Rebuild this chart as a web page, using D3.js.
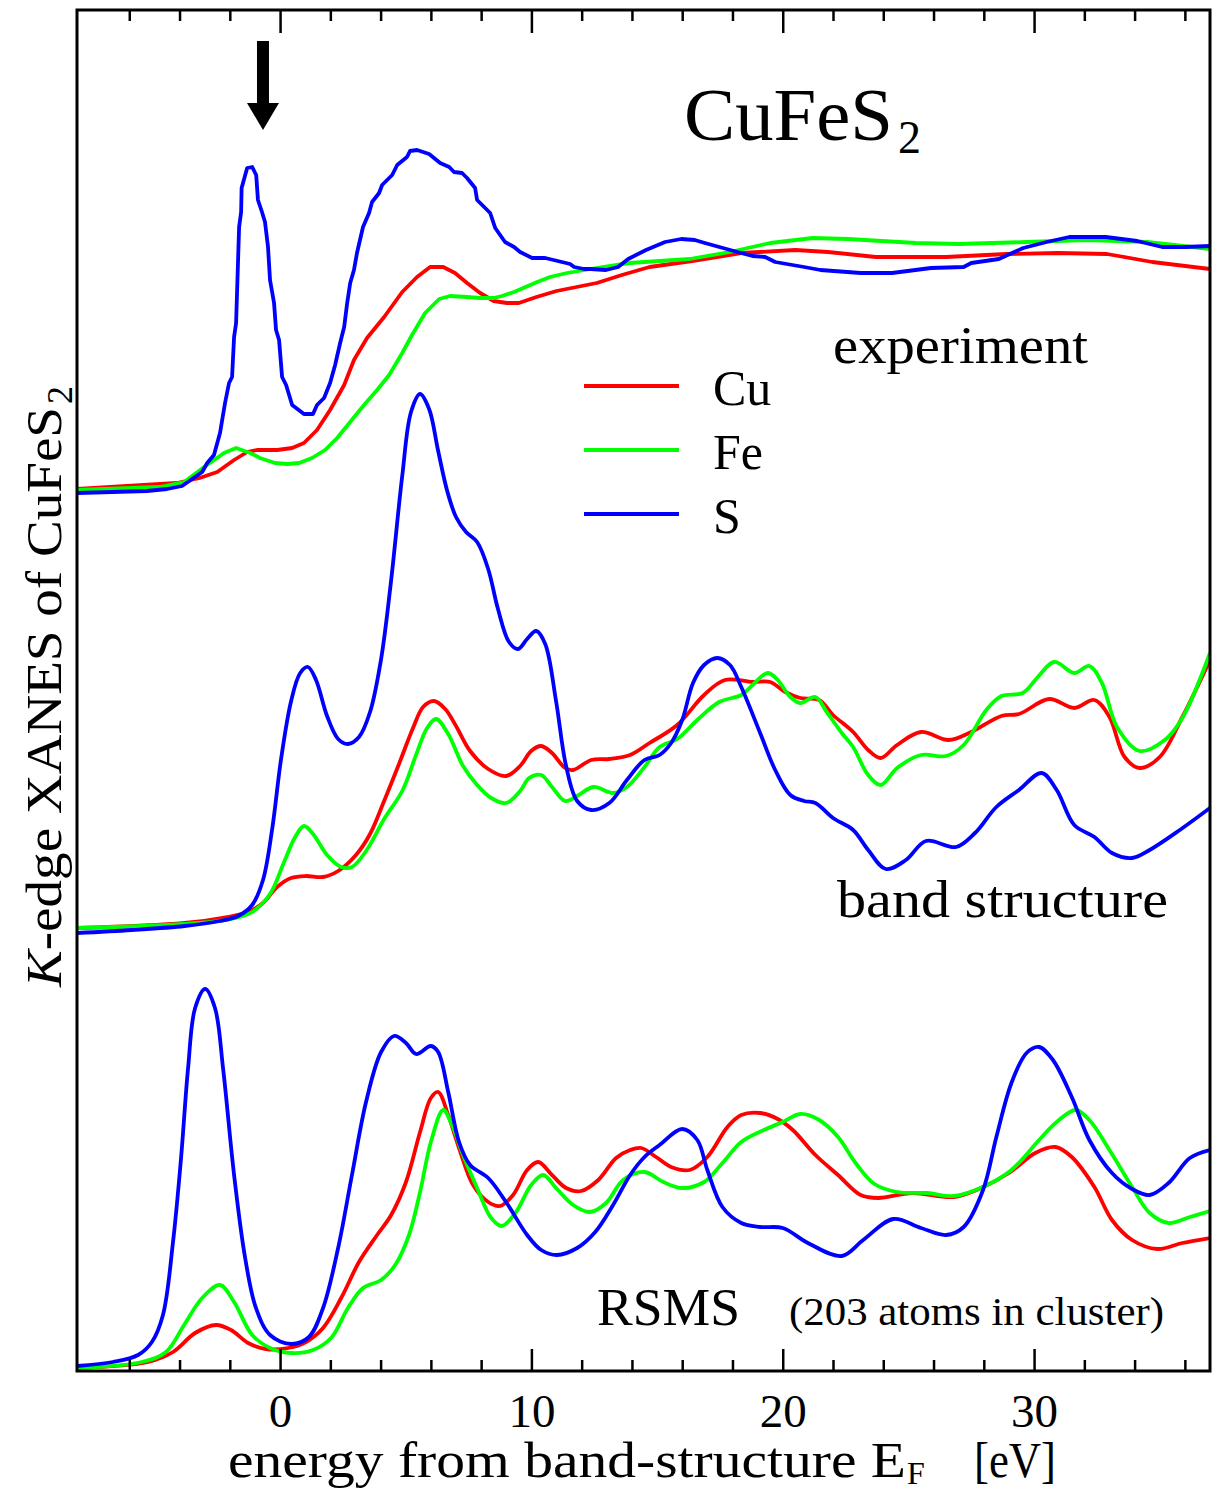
<!DOCTYPE html>
<html>
<head>
<meta charset="utf-8">
<script src="https://cdnjs.cloudflare.com/ajax/libs/d3/7.8.5/d3.min.js"></script>
<style>
  body { margin: 0; background: #fff; }
  text { font-family: "Liberation Serif", "Times New Roman", serif; fill: #000; }
</style>
</head>
<body>
<div id="chart"></div>
<script>
// energies in eV (from band-structure E_F), intensities in arbitrary offset units
var expS = [[-8.08,8.78],[-5.3,8.80],[-4.5,8.82],[-3.9,8.85],[-3.5,8.92],[-3.1,8.99],[-2.9,9.08],[-2.63,9.16],[-2.39,9.38],[-2.19,9.68],[-2.03,9.88],[-1.91,9.94],[-1.83,10.34],[-1.75,10.48],[-1.63,11.44],[-1.55,11.59],[-1.53,11.83],[-1.31,12.03],[-1.11,12.04],[-0.95,11.96],[-0.88,11.71],[-0.72,11.59],[-0.6,11.49],[-0.48,11.24],[-0.4,10.91],[-0.24,10.68],[-0.16,10.41],[-0.04,10.31],[0.08,9.94],[0.24,9.86],[0.48,9.66],[0.95,9.57],[1.31,9.57],[1.47,9.66],[1.75,9.73],[1.99,9.88],[2.19,10.06],[2.39,10.28],[2.55,10.44],[2.67,10.68],[2.79,10.88],[2.94,11.01],[3.06,11.18],[3.3,11.44],[3.54,11.58],[3.66,11.69],[3.94,11.78],[4.06,11.86],[4.46,11.96],[4.66,12.06],[5.05,12.14],[5.17,12.20],[5.45,12.21],[5.93,12.17],[6.37,12.08],[6.73,12.04],[6.92,11.99],[7.24,11.98],[7.44,11.93],[7.76,11.83],[7.84,11.71],[8.36,11.58],[8.56,11.43],[8.95,11.29],[9.31,11.24],[9.55,11.19],[10.03,11.13],[10.55,11.13],[11.54,11.07],[11.7,11.04],[12.1,11.02],[12.34,11.02],[12.97,11.01],[13.45,11.04],[13.85,11.12],[14.56,11.21],[15.32,11.29],[15.96,11.32],[16.5,11.31],[16.9,11.28],[18.2,11.19],[18.8,11.15],[19.3,11.14],[19.7,11.09],[20.85,11.04],[21.5,11.01],[23.1,10.98],[24.35,10.98],[25.9,11.03],[27.2,11.04],[27.5,11.08],[28.6,11.12],[29.57,11.23],[30.5,11.29],[31.4,11.34],[32.85,11.34],[34.1,11.30],[35.1,11.24],[36.0,11.24],[37.0,11.25]];
var expCu = [[-8.08,8.82],[-4.1,8.88],[-3.2,8.93],[-2.5,8.99],[-1.83,9.11],[-1.31,9.19],[-0.92,9.21],[-0.12,9.21],[0.48,9.23],[0.95,9.28],[1.47,9.41],[1.99,9.61],[2.55,9.86],[2.94,10.11],[3.46,10.33],[4.14,10.54],[4.86,10.79],[5.45,10.94],[5.97,11.04],[6.49,11.04],[6.96,10.98],[7.44,10.88],[7.96,10.78],[8.5,10.70],[9.03,10.68],[9.5,10.68],[10.2,10.74],[11.0,10.80],[11.8,10.84],[12.6,10.88],[13.6,10.96],[14.7,11.04],[16.4,11.10],[18.35,11.18],[20.5,11.21],[21.8,11.19],[23.7,11.14],[26.5,11.14],[28.9,11.17],[30.95,11.18],[32.9,11.17],[34.7,11.09],[37.0,11.02]];
var expFe = [[-8.08,8.81],[-4.78,8.84],[-3.82,8.89],[-3.02,9.04],[-2.23,9.18],[-1.75,9.23],[-1.19,9.18],[-0.8,9.13],[-0.2,9.08],[0.28,9.07],[0.76,9.08],[1.27,9.13],[1.79,9.21],[2.27,9.33],[2.79,9.49],[3.34,9.66],[3.86,9.81],[4.34,9.96],[4.86,10.18],[5.25,10.36],[5.77,10.58],[6.33,10.72],[6.76,10.75],[7.44,10.74],[7.96,10.73],[8.5,10.73],[8.83,10.75],[9.31,10.79],[10.23,10.89],[10.74,10.94],[11.42,10.98],[12.34,11.02],[13.9,11.08],[16.3,11.12],[17.9,11.19],[19.5,11.28],[21.2,11.33],[22.6,11.32],[25.3,11.28],[27.0,11.27],[29.7,11.29],[32.1,11.31],[34.5,11.29],[37.0,11.22]];

var bandS = [[-8.08,4.38],[-5.9,4.41],[-3.8,4.45],[-2.4,4.50],[-1.67,4.55],[-1.11,4.66],[-0.68,4.91],[-0.32,5.41],[0.04,6.12],[0.44,6.70],[0.8,6.98],[1.11,7.04],[1.43,6.91],[1.87,6.55],[2.31,6.32],[2.7,6.27],[3.14,6.34],[3.58,6.59],[4.02,7.12],[4.42,7.91],[4.86,8.95],[5.21,9.59],[5.57,9.77],[5.93,9.62],[6.29,9.20],[6.65,8.80],[7.0,8.54],[7.4,8.39],[7.84,8.29],[8.28,8.02],[8.67,7.62],[9.11,7.29],[9.47,7.22],[9.83,7.32],[10.19,7.40],[10.55,7.27],[10.98,6.70],[11.38,6.05],[11.82,5.70],[12.38,5.61],[13.1,5.68],[13.8,5.91],[14.5,6.11],[15.1,6.16],[15.56,6.28],[16.0,6.51],[16.43,6.88],[16.87,7.06],[17.4,7.13],[17.9,7.06],[18.35,6.84],[19.1,6.38],[19.7,6.01],[20.3,5.76],[20.85,5.70],[21.3,5.68],[22.0,5.53],[22.8,5.41],[23.4,5.21],[24.1,5.02],[24.9,5.11],[25.7,5.30],[26.9,5.24],[27.65,5.38],[28.5,5.64],[29.4,5.81],[30.3,5.98],[30.9,5.81],[31.6,5.46],[32.4,5.34],[33.1,5.18],[33.9,5.13],[34.6,5.21],[35.8,5.41],[37.0,5.63]];
var bandCu = [[-8.08,4.43],[-3.8,4.48],[-2.1,4.54],[-1.27,4.59],[-0.68,4.68],[-0.12,4.84],[0.44,4.93],[1.03,4.95],[1.71,4.94],[2.31,5.00],[3.02,5.16],[3.58,5.37],[4.14,5.70],[4.7,6.05],[5.29,6.43],[5.69,6.64],[6.13,6.70],[6.57,6.62],[7.0,6.45],[7.56,6.20],[8.28,6.02],[8.99,5.95],[9.55,6.05],[9.99,6.20],[10.39,6.25],[10.82,6.18],[11.34,6.03],[11.66,6.01],[12.38,6.11],[13.1,6.12],[13.93,6.16],[14.7,6.28],[15.8,6.46],[16.87,6.76],[17.7,6.91],[18.8,6.89],[19.5,6.89],[20.1,6.79],[20.7,6.73],[21.45,6.71],[22.0,6.56],[22.8,6.39],[23.4,6.21],[23.9,6.13],[24.55,6.26],[25.5,6.39],[26.6,6.31],[27.5,6.39],[28.7,6.55],[29.4,6.57],[30.6,6.72],[31.6,6.63],[32.4,6.71],[33.0,6.54],[33.6,6.14],[34.2,6.03],[35.0,6.14],[35.9,6.54],[37.0,7.11]];
var bandFe = [[-8.08,4.43],[-3.8,4.47],[-1.95,4.52],[-1.11,4.59],[-0.4,4.77],[0.16,5.09],[0.6,5.34],[0.95,5.45],[1.31,5.37],[1.87,5.16],[2.43,5.04],[2.86,5.04],[3.42,5.20],[4.14,5.52],[4.86,5.80],[5.41,6.16],[5.85,6.43],[6.21,6.52],[6.69,6.37],[7.28,6.05],[7.84,5.86],[8.4,5.73],[8.99,5.68],[9.55,5.80],[9.91,5.93],[10.39,5.96],[10.82,5.84],[11.34,5.70],[11.82,5.75],[12.46,5.84],[13.25,5.78],[13.8,5.84],[14.5,6.04],[15.1,6.24],[15.8,6.32],[16.6,6.51],[17.47,6.69],[18.35,6.76],[18.8,6.86],[19.4,6.98],[19.8,6.91],[20.3,6.74],[20.7,6.68],[21.3,6.74],[21.75,6.59],[22.35,6.38],[22.8,6.24],[23.4,5.96],[23.9,5.86],[24.55,6.03],[25.5,6.16],[26.5,6.15],[27.2,6.26],[28.1,6.61],[28.7,6.75],[29.55,6.78],[30.15,6.94],[30.8,7.09],[31.6,6.98],[32.2,7.05],[32.7,6.88],[33.3,6.44],[34.2,6.20],[35.2,6.31],[35.9,6.53],[37.0,7.18]];

var rsmsS = [[-8.08,0.05],[-6.65,0.09],[-5.65,0.16],[-5.1,0.29],[-4.66,0.56],[-4.26,1.29],[-3.94,2.13],[-3.66,3.03],[-3.38,3.63],[-2.98,3.82],[-2.59,3.63],[-2.27,3.03],[-1.83,1.96],[-1.39,1.13],[-0.96,0.63],[-0.4,0.36],[0.44,0.27],[1.15,0.34],[1.71,0.63],[2.31,1.23],[2.86,1.96],[3.42,2.69],[4.02,3.19],[4.54,3.35],[5.01,3.28],[5.41,3.17],[6.0,3.25],[6.29,3.19],[6.69,2.79],[7.12,2.29],[7.56,2.06],[8.28,1.93],[8.99,1.69],[9.83,1.36],[10.39,1.21],[11.02,1.16],[11.82,1.23],[12.54,1.39],[13.25,1.66],[13.93,1.96],[14.5,2.14],[15.1,2.26],[16.0,2.42],[16.6,2.31],[17.0,2.01],[17.6,1.64],[18.35,1.48],[19.1,1.44],[20.0,1.43],[21.0,1.28],[22.35,1.15],[23.2,1.31],[24.4,1.52],[25.5,1.43],[26.5,1.36],[27.2,1.44],[27.97,1.81],[28.5,2.34],[29.1,2.88],[29.7,3.18],[30.2,3.24],[30.75,3.11],[31.5,2.74],[32.2,2.31],[33.1,1.98],[33.9,1.82],[34.6,1.76],[35.35,1.88],[36.2,2.13],[37.0,2.21]];
var rsmsCu = [[-8.08,0.03],[-5.25,0.09],[-4.26,0.19],[-3.38,0.38],[-2.55,0.46],[-1.95,0.41],[-1.27,0.28],[-0.56,0.22],[0.32,0.23],[1.03,0.29],[1.71,0.43],[2.43,0.73],[3.14,1.09],[3.86,1.36],[4.42,1.56],[5.01,1.89],[5.57,2.39],[6.0,2.73],[6.29,2.79],[6.69,2.56],[7.12,2.23],[7.68,1.86],[8.28,1.69],[8.75,1.65],[9.27,1.76],[9.83,2.01],[10.27,2.09],[10.82,1.96],[11.38,1.83],[11.98,1.80],[12.66,1.91],[13.37,2.13],[13.93,2.21],[14.37,2.23],[14.96,2.14],[15.56,2.04],[16.3,2.01],[17.0,2.14],[17.8,2.44],[18.35,2.56],[19.1,2.58],[19.8,2.52],[20.4,2.41],[21.3,2.16],[22.2,1.96],[23.1,1.76],[23.8,1.73],[25.15,1.78],[26.8,1.74],[27.8,1.82],[29.0,1.98],[30.05,2.18],[30.85,2.24],[31.5,2.14],[32.4,1.84],[33.1,1.51],[33.9,1.31],[34.9,1.22],[35.9,1.28],[37.0,1.33]];
var rsmsFe = [[-8.08,0.03],[-5.5,0.09],[-4.54,0.19],[-3.82,0.46],[-3.1,0.73],[-2.39,0.86],[-1.83,0.69],[-1.11,0.36],[-0.4,0.23],[0.44,0.18],[1.31,0.21],[2.03,0.33],[2.7,0.63],[3.3,0.83],[4.02,0.91],[4.58,1.06],[5.13,1.36],[5.57,1.79],[6.0,2.29],[6.49,2.61],[6.84,2.46],[7.28,2.16],[7.84,1.83],[8.4,1.53],[8.83,1.45],[9.39,1.59],[9.99,1.86],[10.47,1.96],[10.98,1.83],[11.66,1.66],[12.34,1.59],[12.97,1.68],[13.65,1.91],[14.5,1.99],[15.25,1.89],[16.0,1.83],[16.87,1.89],[17.6,2.08],[18.35,2.29],[19.25,2.41],[20.0,2.49],[20.7,2.57],[21.45,2.51],[22.2,2.34],[22.9,2.08],[23.65,1.87],[24.55,1.79],[25.75,1.78],[26.8,1.75],[27.97,1.84],[29.1,2.01],[30.2,2.31],[30.9,2.49],[31.65,2.61],[32.2,2.51],[33.0,2.21],[33.9,1.84],[34.6,1.58],[35.35,1.48],[36.2,1.54],[37.0,1.60]];

var elements = ['Cu', 'Fe', 'S'];
var majorTicks = [0, 10, 20, 30];
var minorTicks = [-6, -4, -2, 2, 4, 6, 8, 12, 14, 16, 18, 22, 24, 26, 28, 32, 34, 36];
var arrowE = -0.68;

var W = 1212, H = 1491;
var pLeft = 77, pRight = 1210, pTop = 10, pBottom = 1371;

var svg = d3.select('#chart').append('svg')
  .attr('width', W).attr('height', H);
svg.append('rect').attr('width', W).attr('height', H).attr('fill', '#fff');

var x = d3.scaleLinear().domain([-8.08, 37.0]).range([pLeft, pRight]);
var y = d3.scaleLinear().domain([0, 13.61]).range([pBottom, pTop]);

var colors = {Cu: '#ff0000', Fe: '#00ff00', S: '#0000ff'};

svg.append('clipPath').attr('id', 'plotclip')
  .append('rect').attr('x', pLeft).attr('y', pTop)
  .attr('width', pRight - pLeft).attr('height', pBottom - pTop);

var smooth = d3.line().x(function(d){ return x(d[0]); }).y(function(d){ return y(d[1]); })
  .curve(d3.curveCatmullRom.alpha(0.5));
var jagged = d3.line().x(function(d){ return x(d[0]); }).y(function(d){ return y(d[1]); });

var series = [
  {el:'Cu', data:expCu, line:jagged}, {el:'Fe', data:expFe, line:jagged}, {el:'S', data:expS, line:jagged},
  {el:'Cu', data:bandCu, line:smooth}, {el:'Fe', data:bandFe, line:smooth}, {el:'S', data:bandS, line:smooth},
  {el:'Cu', data:rsmsCu, line:smooth}, {el:'Fe', data:rsmsFe, line:smooth}, {el:'S', data:rsmsS, line:smooth}
];

var curves = svg.append('g').attr('clip-path', 'url(#plotclip)');
series.forEach(function(s){
  curves.append('path')
    .attr('d', s.line(s.data))
    .attr('fill', 'none')
    .attr('stroke', colors[s.el])
    .attr('stroke-width', 3.8)
    .attr('stroke-linejoin', 'round');
});

// axes: ticks inward on bottom and top
function styleAxis(g) {
  g.select('.domain').remove();
  g.selectAll('.tick line').attr('stroke', '#000').attr('stroke-width', 2.5);
}
svg.append('g').attr('transform', 'translate(0,' + pBottom + ')')
  .call(d3.axisBottom(x).tickValues(majorTicks).tickSize(-22).tickFormat(d3.format('d')))
  .call(styleAxis)
  .call(function(g){
    g.selectAll('.tick text').attr('y', 56).attr('dy', null)
      .style('font-family', '"Liberation Serif", serif').style('font-size', '47px').attr('fill', '#000');
  });
svg.append('g').attr('transform', 'translate(0,' + pBottom + ')')
  .call(d3.axisBottom(x).tickValues(minorTicks).tickSize(-11).tickFormat(''))
  .call(styleAxis);
svg.append('g').attr('transform', 'translate(0,' + pTop + ')')
  .call(d3.axisTop(x).tickValues(majorTicks).tickSize(-23).tickFormat(''))
  .call(styleAxis);
svg.append('g').attr('transform', 'translate(0,' + pTop + ')')
  .call(d3.axisTop(x).tickValues(minorTicks).tickSize(-11).tickFormat(''))
  .call(styleAxis);

svg.append('rect')
  .attr('x', pLeft).attr('y', pTop)
  .attr('width', pRight - pLeft).attr('height', pBottom - pTop)
  .attr('fill', 'none').attr('stroke', '#000').attr('stroke-width', 3);

// arrow marking the pre-edge peak
var ax = x(arrowE);
svg.append('rect').attr('x', ax - 6).attr('y', 41).attr('width', 12).attr('height', 64).attr('fill', '#000');
svg.append('path')
  .attr('d', 'M' + (ax - 16) + ',103 L' + (ax + 16) + ',103 L' + ax + ',130 Z')
  .attr('fill', '#000');

// title
svg.append('text').attr('x', 684).attr('y', 140)
  .attr('textLength', 209).attr('lengthAdjust', 'spacingAndGlyphs')
  .style('font-size', '74px').text('CuFeS');
svg.append('text').attr('x', 898).attr('y', 153).style('font-size', '46px').text('2');

// panel labels
function label(txt, x0, y0, size, len) {
  svg.append('text').attr('x', x0).attr('y', y0)
    .attr('textLength', len).attr('lengthAdjust', 'spacingAndGlyphs')
    .style('font-size', size + 'px').text(txt);
}
label('experiment', 833, 363, 52, 255);
label('band structure', 837, 917, 52, 331);
label('RSMS', 597, 1325, 52, 143);
label('(203 atoms in cluster)', 789, 1325, 40, 375);

// legend
var legY = [386, 450, 514];
elements.forEach(function(el, i){
  svg.append('line').attr('x1', 584).attr('x2', 679)
    .attr('y1', legY[i]).attr('y2', legY[i])
    .attr('stroke', colors[el]).attr('stroke-width', 3.8);
  svg.append('text').attr('x', 713).attr('y', legY[i] + 19)
    .style('font-size', '50px').text(el);
});

// x axis title
label('energy from band-structure E', 228, 1477, 51, 678);
svg.append('text').attr('x', 907).attr('y', 1484).style('font-size', '32px').text('F');
label('[eV]', 974, 1477, 51, 82);

// y axis title
var yl = svg.append('text')
  .attr('transform', 'translate(61,987) rotate(-90)')
  .attr('textLength', 580).attr('lengthAdjust', 'spacingAndGlyphs')
  .style('font-size', '51px');
yl.append('tspan').style('font-style', 'italic').text('K');
yl.append('tspan').text('-edge XANES of CuFeS');
svg.append('text')
  .attr('transform', 'translate(72,404) rotate(-90)')
  .style('font-size', '36px').text('2');
</script>
</body>
</html>
